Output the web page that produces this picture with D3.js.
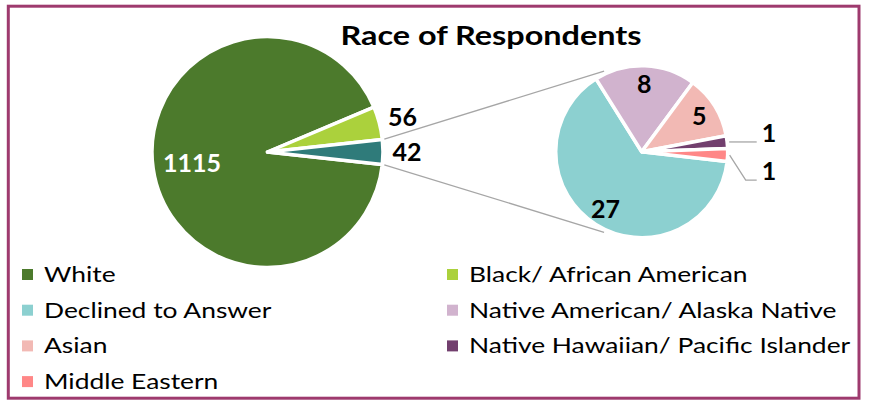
<!DOCTYPE html>
<html>
<head>
<meta charset="utf-8">
<script src="https://cdn.jsdelivr.net/npm/d3@7"></script>
<style>
  body { margin: 0; background: #fff; }
  svg { display: block; font-family: Lato, "Open Sans", sans-serif; }
</style>
</head>
<body>
<svg id="chart"></svg>
<script>
// data
const mainLabels = ["White", "Black/ African American", "Other"];
const mainValues = [1115, 56, 42];
const mainColors = ["#4c7a2c", "#abd13c", "#2f7b7a"];

const subLabels = ["Declined to Answer", "Native American/ Alaska Native", "Asian",
                   "Native Hawaiian/ Pacific Islander", "Middle Eastern"];
const subValues = [27, 8, 5, 1, 1];
const subColors = ["#8cd0d0", "#d1b3ce", "#f2b9b4", "#723f6e", "#ff8787"];

const legendOrder = ["White", "Black/ African American", "Declined to Answer",
                     "Native American/ Alaska Native", "Asian",
                     "Native Hawaiian/ Pacific Islander", "Middle Eastern"];

const title = "Race of Respondents";

var svgWidth = 869, svgHeight = 400;
var svg = d3.select('#chart')
    .attr('width', svgWidth)
    .attr('height', svgHeight);

// frame
svg.append('rect')
    .attr('x', 8.3).attr('y', 6.2)
    .attr('width', 850.7).attr('height', 392)
    .attr('fill', '#fff')
    .attr('stroke', '#9e3a6e')
    .attr('stroke-width', 3);

// the source font runs wider than Lato, so stretch text a little
var stretch = 1.2;

svg.append('text')
    .attr('transform', 'translate(491,45) scale(' + stretch + ',1)')
    .attr('text-anchor', 'middle')
    .attr('font-weight', 'bold')
    .attr('font-size', 27)
    .text(title);

var deg = Math.PI / 180;

// main pie, "Other" slice centred on the right
var main = { cx: 267.5, cy: 152, r: 115.5 };
var otherFrac = mainValues[2] / d3.sum(mainValues);
var mainStart = Math.PI / 2 + otherFrac * Math.PI - 2 * Math.PI;

var mainArcs = d3.pie().sort(null)
    .startAngle(mainStart).endAngle(mainStart + 2 * Math.PI)(mainValues);

// secondary pie
var sub = { cx: 641.7, cy: 151.7, r: 86 };
var subStart = 96.5 * deg;
var subArcs = d3.pie().sort(null)
    .startAngle(subStart).endAngle(subStart + 2 * Math.PI)(subValues);

function pt(c, r, a) {
    return [c.cx + r * Math.sin(a), c.cy - r * Math.cos(a)];
}

// connector lines
var other = mainArcs[2];
var conn = [
    [pt(main, main.r + 2, other.startAngle), pt(sub, sub.r + 3, -25 * deg)],
    [pt(main, main.r + 2, other.endAngle), pt(sub, sub.r + 3, 205 * deg)]
];
svg.append('g').selectAll('line')
    .data(conn).enter().append('line')
    .attr('x1', d => d[0][0]).attr('y1', d => d[0][1])
    .attr('x2', d => d[1][0]).attr('y2', d => d[1][1])
    .attr('stroke', '#a6a6a6')
    .attr('stroke-width', 1.3);

var mainArc = d3.arc().innerRadius(0).outerRadius(main.r);
var gMain = svg.append('g')
    .attr('transform', 'translate(' + main.cx + ',' + main.cy + ')');
gMain.selectAll('path')
    .data(mainArcs).enter().append('path')
    .attr('d', mainArc)
    .attr('fill', (d, i) => mainColors[i])
    .attr('stroke', '#fff')
    .attr('stroke-width', 3.5)
    .attr('stroke-linejoin', 'round');

var subArc = d3.arc().innerRadius(0).outerRadius(sub.r);
var gSub = svg.append('g')
    .attr('transform', 'translate(' + sub.cx + ',' + sub.cy + ')');
gSub.selectAll('path')
    .data(subArcs).enter().append('path')
    .attr('d', subArc)
    .attr('fill', (d, i) => subColors[i])
    .attr('stroke', '#fff')
    .attr('stroke-width', 3.5)
    .attr('stroke-linejoin', 'round');

// labels
function mid(d) { return (d.startAngle + d.endAngle) / 2; }
var labelSize = 25;

// main: biggest inside, small ones outside end
gMain.selectAll('text')
    .data(mainArcs).enter().append('text')
    .attr('transform', (d, i) => {
        var rr = i === 0 ? main.r * 0.66 : main.r + 24;
        return 'translate(' + (rr * Math.sin(mid(d))) + ',' + (-rr * Math.cos(mid(d))) + ')';
    })
    .attr('dy', '0.36em')
    .attr('text-anchor', 'middle')
    .attr('font-weight', 'bold')
    .attr('font-size', labelSize)
    .attr('fill', (d, i) => i === 0 ? '#fff' : '#000')
    .text(d => d.data);

var inside = subArcs.filter(d => d.data > 1);
var outside = subArcs.filter(d => d.data <= 1);

gSub.selectAll('text.in')
    .data(inside).enter().append('text')
    .attr('class', 'in')
    .attr('transform', d => {
        var rr = sub.r * 0.79;
        return 'translate(' + (rr * Math.sin(mid(d))) + ',' + (-rr * Math.cos(mid(d))) + ')';
    })
    .attr('dy', '0.36em')
    .attr('text-anchor', 'middle')
    .attr('font-weight', 'bold')
    .attr('font-size', labelSize)
    .text(d => d.data);

// outside labels with leader lines, pushed apart vertically
var nudge = [0, 25];
var lx = sub.r + 34;
outside.forEach((d, i) => {
    var e = [(sub.r + 2) * Math.sin(mid(d)), -(sub.r + 2) * Math.cos(mid(d))];
    var by = e[1] + nudge[i];
    var pts = [e, [lx - 16, by], [lx - 5, by]];
    gSub.append('path')
        .attr('d', d3.line()(pts))
        .attr('fill', 'none')
        .attr('stroke', '#a6a6a6')
        .attr('stroke-width', 1.3);
    gSub.append('text')
        .attr('x', lx).attr('y', by)
        .attr('font-weight', 'bold')
        .attr('font-size', labelSize)
        .text(d.data);
});

// legend
var colorOf = {};
mainLabels.forEach((l, i) => colorOf[l] = mainColors[i]);
subLabels.forEach((l, i) => colorOf[l] = subColors[i]);

var legend = svg.append('g');
var item = legend.selectAll('g')
    .data(legendOrder).enter().append('g')
    .attr('transform', (d, i) => 'translate(' + (i % 2 ? 447 : 22) + ',' + (282 + Math.floor(i / 2) * 35.7) + ')');
item.append('rect')
    .attr('x', 0).attr('y', -13)
    .attr('width', 11).attr('height', 11)
    .attr('fill', d => colorOf[d]);
item.append('text')
    .attr('transform', 'translate(22,0) scale(' + stretch + ',1)')
    .attr('font-size', 22)
    .attr('fill', '#000')
    .text(d => d);
</script>
</body>
</html>
